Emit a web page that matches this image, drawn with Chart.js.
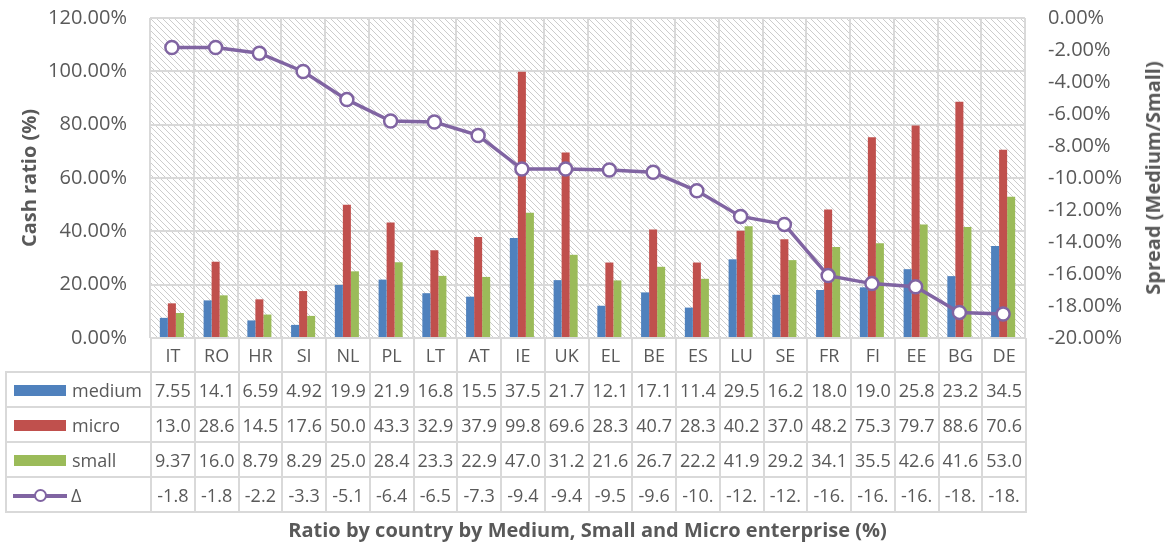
<!DOCTYPE html>
<html lang="en">
<head>
  <meta charset="UTF-8" />
  <title>Cash ratio by country</title>
  <script src="https://cdn.jsdelivr.net/npm/chart.js"></script>
  <style>
    html, body { margin: 0; padding: 0; background: #fff; }
    #wrap { position: relative; width: 1172px; height: 544px; font-family: "Open Sans", sans-serif; color: #595959; }
    #chart { position: absolute; left: 0; top: 0; }
    #dataTable {
      position: absolute; left: 5px; top: 338px;
      border-collapse: collapse; table-layout: fixed; width: 1020px;
      font-size: 18px; color: #595959;
    }
    #dataTable td {
      border: 2px solid #d9d9d9; padding: 0; text-align: center;
      white-space: nowrap; overflow: hidden;
    }
    #dataTable tr.head { height: 34px; }
    #dataTable tr.row { height: 35px; }
    #dataTable tr.head td { border-top: none; }
    #dataTable tr.head td.blank { border-left: none; }
    #dataTable td.name { text-align: left; }
    .key { display: inline-block; width: 52px; height: 11px; margin: 0 6px 0 7px; vertical-align: middle; position: relative; top: -1px; }
    .lkey { display: inline-block; position: relative; width: 54px; height: 14px; margin: 0 4px 0 6px; vertical-align: middle; top: -1px; }
    .lkey::before { content: ''; position: absolute; left: 0; right: 0; top: 5px; height: 4px; background: #8064a2; }
    .lkey i { position: absolute; left: 21px; top: 0; width: 9px; height: 9px; border: 2.5px solid #8064a2; border-radius: 50%; background: #fff; }
    /* Excel writes the secondary axis title bottom-to-top */
    #spreadTitle {
      position: absolute; left: 1153px; top: 178px;
      transform: translate(-50%, -50%) rotate(-90deg);
      font-weight: bold; font-size: 20px; white-space: nowrap; line-height: 24px;
    }
  </style>
</head>
<body>
  <div id="wrap">
    <canvas id="chart" width="1172" height="544"></canvas>
    <div id="spreadTitle">Spread (Medium/Small)</div>
    <table id="dataTable"></table>
  </div>

  <script>
    // values (percent)
    const countries = ['IT', 'RO', 'HR', 'SI', 'NL', 'PL', 'LT', 'AT', 'IE', 'UK', 'EL', 'BE', 'ES', 'LU', 'SE', 'FR', 'FI', 'EE', 'BG', 'DE'];
    const medium = [7.55, 14.1, 6.59, 4.92, 19.9, 21.9, 16.8, 15.5, 37.5, 21.7, 12.1, 17.1, 11.4, 29.5, 16.2, 18.0, 19.0, 25.8, 23.2, 34.5];
    const micro  = [13.0, 28.6, 14.5, 17.6, 50.0, 43.3, 32.9, 37.9, 99.8, 69.6, 28.3, 40.7, 28.3, 40.2, 37.0, 48.2, 75.3, 79.7, 88.6, 70.6];
    const small  = [9.37, 16.0, 8.79, 8.29, 25.0, 28.4, 23.3, 22.9, 47.0, 31.2, 21.6, 26.7, 22.2, 41.9, 29.2, 34.1, 35.5, 42.6, 41.6, 53.0];
    const delta  = [-1.84, -1.84, -2.2, -3.34, -5.1, -6.44, -6.5, -7.34, -9.44, -9.44, -9.5, -9.64, -10.8, -12.4, -12.9, -16.1, -16.6, -16.8, -18.4, -18.5];

    const cashAxis = { min: 0, max: 120, step: 20 };
    const spreadAxis = { min: -20, max: 0, step: 2 };

    const BLUE = '#4f81bd', RED = '#c0504d', GREEN = '#9bbb59', PURPLE = '#8064a2';
    const GRID = '#d9d9d9', TEXT = '#595959';
    const FONT = '"Open Sans", sans-serif';

    // Excel-style narrow column: show the first 4 characters
    const cell = v => v.toFixed(2).slice(0, 4);

    // diagonal hatch behind the plot area
    const hatch = {
      id: 'hatch',
      beforeDraw(chart) {
        const { ctx, chartArea: a } = chart;
        const p = document.createElement('canvas');
        p.width = p.height = 6;
        const c = p.getContext('2d');
        c.strokeStyle = '#cccccc';
        c.lineWidth = 1;
        c.beginPath();
        c.moveTo(-1, -1); c.lineTo(7, 7);
        c.moveTo(-1, 5); c.lineTo(1, 7);
        c.moveTo(5, -1); c.lineTo(7, 1);
        c.stroke();
        ctx.save();
        ctx.fillStyle = ctx.createPattern(p, 'repeat');
        ctx.fillRect(a.left, a.top, a.right - a.left, a.bottom - a.top);
        ctx.restore();
      }
    };

    const barDs = (label, data, color) => ({
      type: 'bar', label, data, backgroundColor: color, yAxisID: 'y', order: 1,
      categoryPercentage: 0.55, barPercentage: 1
    });

    // fixed axis box: no extra room asked for the end labels
    const fixWidth = w => s => { s.width = w; s.paddingTop = 0; s.paddingBottom = 0; };

    new Chart(document.getElementById('chart'), {
      data: {
        labels: countries,
        datasets: [
          {
            type: 'line', label: 'Δ', data: delta, yAxisID: 'y1', order: 0,
            borderColor: PURPLE, borderWidth: 3.5,
            pointRadius: 6.5, pointBorderWidth: 2.5,
            pointBackgroundColor: '#fff', pointBorderColor: PURPLE
          },
          barDs('medium', medium, BLUE),
          barDs('micro', micro, RED),
          barDs('small', small, GREEN)
        ]
      },
      options: {
        responsive: false,
        devicePixelRatio: 1,
        animation: false,
        layout: { padding: { top: 18, left: 0, right: 0, bottom: 0 } },
        plugins: { legend: { display: false }, tooltip: { enabled: false } },
        scales: {
          x: {
            offset: true,
            grid: { color: GRID, lineWidth: 2, drawTicks: false, offset: true },
            border: { display: false },
            ticks: { display: false },
            title: {
              display: true, text: 'Ratio by country by Medium, Small and Micro enterprise (%)',
              color: TEXT, font: { family: FONT, size: 20, weight: 'bold' },
              padding: { top: 0, bottom: 1 }
            },
            afterFit: s => { s.height = 206; }
          },
          y: {
            position: 'left',
            min: cashAxis.min, max: cashAxis.max,
            grid: { color: GRID, lineWidth: 2, drawTicks: false },
            border: { display: false },
            ticks: {
              stepSize: cashAxis.step, padding: 23, color: TEXT,
              font: { family: FONT, size: 20 },
              callback: v => v.toFixed(2) + '%'
            },
            title: {
              display: true, text: 'Cash ratio (%)', color: TEXT,
              font: { family: FONT, size: 20, weight: 'bold' },
              padding: { top: 18, bottom: 0 }
            },
            afterFit: fixWidth(150)
          },
          y1: {
            position: 'right',
            min: spreadAxis.min, max: spreadAxis.max,
            grid: { display: false, drawTicks: false },
            border: { display: false },
            ticks: {
              stepSize: spreadAxis.step, padding: 23, color: TEXT,
              font: { family: FONT, size: 20 },
              callback: v => v.toFixed(2) + '%'
            },
            title: { display: false },
            afterFit: fixWidth(147)
          }
        }
      },
      plugins: [hatch]
    });

    // data table under the plot
    const table = document.getElementById('dataTable');
    let html = '<colgroup><col style="width:145px">' + countries.map(() => '<col style="width:43.75px">').join('') + '</colgroup>';
    html += '<tr class="head"><td class="blank"></td>' + countries.map(c => '<td>' + c + '</td>').join('') + '</tr>';
    const rows = [
      { name: 'medium', values: medium, key: '<span class="key" style="background:' + BLUE + '"></span>' },
      { name: 'micro', values: micro, key: '<span class="key" style="background:' + RED + '"></span>' },
      { name: 'small', values: small, key: '<span class="key" style="background:' + GREEN + '"></span>' },
      { name: 'Δ', values: delta, key: '<span class="lkey"><i></i></span>' }
    ];
    rows.forEach(r => {
      html += '<tr class="row"><td class="name">' + r.key + r.name + '</td>' +
        r.values.map(v => '<td>' + cell(v) + '</td>').join('') + '</tr>';
    });
    table.innerHTML = html;
  </script>
</body>
</html>
